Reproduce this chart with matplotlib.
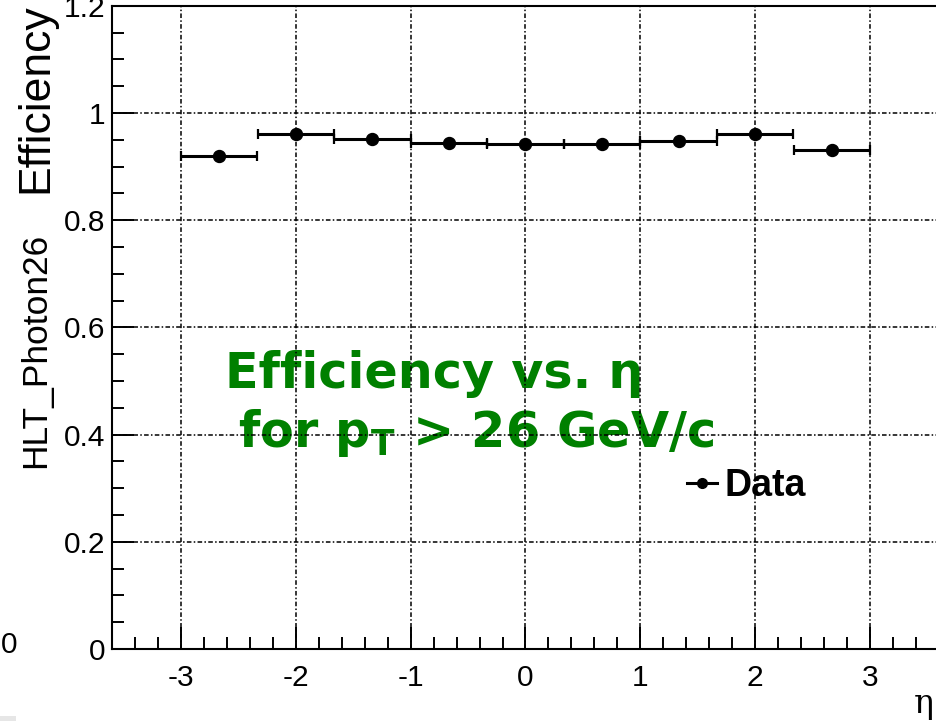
"""
HLT_Photon26 trigger efficiency vs. eta (ROOT-style canvas)
"""

import matplotlib
matplotlib.use("Agg")
import matplotlib.pyplot as plt
import matplotlib.ticker as ticker
from matplotlib.lines import Line2D
from matplotlib.patches import Rectangle

# 데이터
eta_centers = [-2.667, -2.0, -1.333, -0.667, 0.0, 0.667, 1.333, 2.0, 2.667]
eta_halfwidth = [0.333, 0.333, 0.333, 0.333, 0.333, 0.333, 0.333, 0.333, 0.333]
efficiency = [0.920, 0.960, 0.951, 0.944, 0.942, 0.942, 0.948, 0.961, 0.931]

x_ticks = [-3, -2, -1, 0, 1, 2, 3]
y_ticks = [0, 0.2, 0.4, 0.6, 0.8, 1.0, 1.2]

W, H = 937, 721
plt.rcParams["axes.unicode_minus"] = False
plt.rcParams["font.family"] = ["Liberation Sans", "DejaVu Sans"]


def fx(px):
    return px / W


def fy(py):
    return 1 - py / H


fig = plt.figure(figsize=(W / 100, H / 100), dpi=100)
fig.patch.set_facecolor("white")
ax = fig.add_axes([fx(112), fy(649), (939 - 112) / W, (649 - 5.7) / H])

ax.errorbar(eta_centers, efficiency, xerr=eta_halfwidth, fmt="o", color="black",
            ms=8.6, elinewidth=2.2, capsize=3.4, capthick=1.6, zorder=3)

ax.set_xlim(-3.6, 3.6)
ax.set_ylim(0, 1.2)
ax.set_xticks(x_ticks)
ax.set_yticks(y_ticks)
ax.xaxis.set_minor_locator(ticker.MultipleLocator(0.2))
ax.yaxis.set_minor_locator(ticker.MultipleLocator(0.05))
ax.yaxis.set_major_formatter(ticker.FuncFormatter(lambda v, p: f"{v:g}"))
ax.xaxis.set_major_formatter(ticker.FuncFormatter(lambda v, p: f"{v:g}"))

ax.tick_params(which="major", direction="in", length=16, width=1.4,
               labelsize=21.5, pad=5)
ax.tick_params(axis="x", which="major", pad=11)
ax.tick_params(which="minor", direction="in", length=8.5, width=1.4)
for s in ax.spines.values():
    s.set_linewidth(1.5)

ax.set_axisbelow(True)
ax.grid(True, which="major", color="black", linewidth=1.1,
        linestyle=(0, (3, 1.5, 1, 1.5)))

# 라벨 (Y축 제목은 두 부분, 글자 크기 다름)
fig.text(fx(45), fy(468), "HLT_Photon26", rotation=90, rotation_mode="anchor",
         ha="left", va="baseline", fontsize=25.5)
fig.text(fx(47), fy(193), "Efficiency", rotation=90, rotation_mode="anchor",
         ha="left", va="baseline", fontsize=32)
fig.text(fx(924), fy(713), "η", fontsize=24, family="DejaVu Serif",
         ha="center", va="baseline")
fig.text(fx(9), fy(645), "0", fontsize=21.5, ha="center", va="center")
fig.patches.append(Rectangle((0, 0), fx(16), 5 / H, transform=fig.transFigure,
                             facecolor="#e6e6e6", edgecolor="none"))

# 녹색 주석 (그리드 아래)
green = "#008000"
ax.text(fx(225), fy(388), "Efficiency vs. η", transform=fig.transFigure,
        color=green, fontsize=35.5, fontweight="bold", family="DejaVu Sans",
        va="baseline", zorder=0.2)
ax.text(fx(238), fy(447), r"for $\mathbf{p}_{\mathbf{T}}$ > 26 GeV/c",
        transform=fig.transFigure, color=green, fontsize=35.5,
        fontweight="bold", family="DejaVu Sans", va="baseline", zorder=0.2)

# 범례
handle = Line2D([], [], color="black", marker="o", lw=2.2, ms=7)
ax.legend([handle], ["Data"], loc="center left",
          bbox_to_anchor=(fx(687), fy(486)), bbox_transform=fig.transFigure,
          frameon=False, borderpad=0, borderaxespad=0, handlelength=0.8,
          handletextpad=0.2, prop={"size": 27, "weight": "bold"})

fig.savefig("out.png", dpi=100, facecolor="white")
